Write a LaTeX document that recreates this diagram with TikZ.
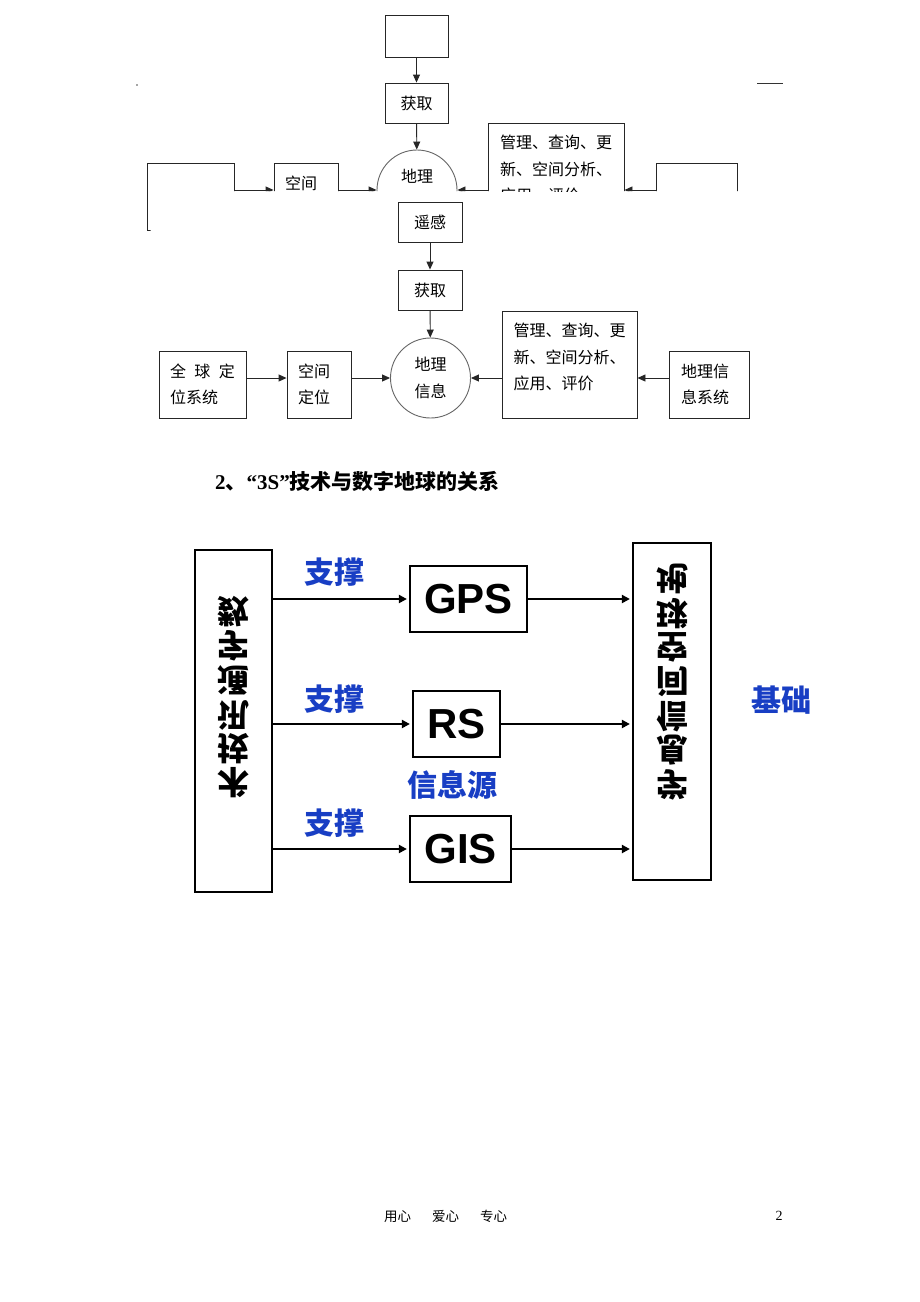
\documentclass[tikz,border=0pt]{standalone}
\usepackage{fontspec}
\usepackage{graphicx}
\newfontfamily\cjk{Noto Sans CJK SC}
\newfontfamily\arial{Liberation Sans}
\newfontfamily\tnr{Liberation Serif}
\usetikzlibrary{arrows.meta}
\definecolor{labelblue}{RGB}{24,62,196}
\newcommand{\flipch}[1]{\rotatebox[origin=c]{180}{\reflectbox{#1}}}

\begin{document}
\begin{tikzpicture}[x=1pt,y=-1pt,
	thinbox/.style={draw=black!85, line width=0.9pt, rectangle, inner sep=0pt, font=\cjk\fontsize{16}{26.5}\selectfont},
	thinarr/.style={draw=black!85, line width=0.9pt, -{Triangle[length=8pt,width=7pt]}},
	thickbox/.style={draw, line width=2.2pt, rectangle, inner sep=0pt},
	thickarr/.style={line width=2.2pt, shorten >=2pt, -{Triangle[length=8pt,width=8pt]}},
	biglabel/.style={font=\arial\bfseries\fontsize{42}{42}\selectfont},
	bluelabel/.style={labelblue, inner sep=0pt, font=\cjk\bfseries\fontsize{30}{30}\selectfont},
	fliptext/.style={align=center, inner sep=0pt, font=\cjk\bfseries\fontsize{32}{34.2}\selectfont}]
		\fill[white] (0,0) rectangle (920,1302);
		\useasboundingbox (0,0) rectangle (920,1302);
		% cut-off part of the page above
		\fill[black!70] (137,85) circle (0.8);
		\draw[black!80, line width=0.9pt] (757,83) -- (783,83);
		\begin{scope}
			\clip (140,0) rectangle (800,191) (0,0) rectangle (150.5,240);
			\node[thinbox, minimum width=63, minimum height=42] (oblank) at (416.5,36) {};
			\node[thinbox, minimum width=63, minimum height=40] (oget) at (416.5,103) {获取};
			\node[thinbox, draw=black!60, circle, minimum size=80, align=center] (ogeo) at (417,190) {地理\\信息};
			\node[thinbox, minimum width=87, minimum height=67] (oleft) at (190.5,196.5) {};
			\node[thinbox, minimum width=64, minimum height=67, align=left, text width=42] (ospace) at (306,196.5) {空间\\定位};
			\node[thinbox, minimum width=136, minimum height=107] (omanage) at (556,176.5) {};
			\node[thinbox, draw=none, align=left, text width=112] (omanagetext) at ([yshift=7.5pt]omanage.center) {管理、查询、更\\新、空间分析、\\应用、评价};
			\node[thinbox, minimum width=81, minimum height=67] (oright) at (696.5,196.5) {};
			\draw[thinarr] (oblank) -- (oget);
			\draw[thinarr] (oget) -- (ogeo);
			\draw[thinarr] (oleft.east |- ogeo) -- (ospace.west |- ogeo);
			\draw[thinarr] (ospace.east |- ogeo) -- (ogeo);
			\draw[thinarr] (omanage.west |- ogeo) -- (ogeo);
			\draw[thinarr] (oright.west |- ogeo) -- (omanage.east |- ogeo);
		\end{scope}
		% first diagram
		\node[thinbox, minimum width=64, minimum height=40] (rs) at (430,222) {遥感};
		\node[thinbox, minimum width=64, minimum height=40] (get) at (430,290) {获取};
		\node[thinbox, draw=black!60, circle, minimum size=80, align=center] (geo) at (430.5,378) {地理\\信息};
		\node[thinbox, minimum width=87, minimum height=67, align=left, text width=65] (gpsys) at (202.5,384.5) {全\hfill 球\hfill 定\\位系统};
		\node[thinbox, minimum width=64, minimum height=67, align=left, text width=42] (pos) at (319,384.5) {空间\\定位};
		\node[thinbox, minimum width=135, minimum height=107] (manage) at (569.5,364.5) {};
		\node[thinbox, draw=none, align=left, text width=112] (managetext) at ([yshift=7.5pt]manage.center) {管理、查询、更\\新、空间分析、\\应用、评价};
		\node[thinbox, minimum width=80, minimum height=67, align=left, text width=56] (gisys) at (709,384.5) {地理信\\息系统};
		\draw[thinarr] (rs) -- (get);
		\draw[thinarr] (get) -- (geo);
		\draw[thinarr] (gpsys.east |- geo) -- (pos.west |- geo);
		\draw[thinarr] (pos.east |- geo) -- (geo);
		\draw[thinarr] (manage.west |- geo) -- (geo);
		\draw[thinarr] (gisys.west |- geo) -- (manage.east |- geo);
		% heading
		\node[anchor=west, inner sep=0pt] (heading) at (215,481) {{\tnr\bfseries\fontsize{21}{21}\selectfont 2}{\cjk\bfseries\fontsize{21}{21}\selectfont 、}{\tnr\bfseries\fontsize{21}{21}\selectfont “3S”}{\cjk\bfseries\fontsize{21}{21}\selectfont 技术与数字地球的关系}};
		% second diagram
		\node[thickbox, minimum width=77, minimum height=342] (comm) at (233.5,721) {};
		\node[fliptext] (commtext) at (233.5,697) {\flipch{数}\\\flipch{字}\\\flipch{通}\\\flipch{讯}\\\flipch{技}\\\flipch{术}};
		\node[thickbox, minimum width=78, minimum height=337] (geoinfo) at (672,711.5) {};
		\node[fliptext] (geoinfotext) at (672,682) {\flipch{地}\\\flipch{球}\\\flipch{空}\\\flipch{间}\\\flipch{信}\\\flipch{息}\\\flipch{学}};
		\node[thickbox, biglabel, minimum width=117, minimum height=66] (gpsbox) at (468.5,599) {GPS};
		\node[thickbox, biglabel, minimum width=87, minimum height=66] (rsbox) at (456.5,724) {RS};
		\node[thickbox, biglabel, minimum width=101, minimum height=66] (gisbox) at (460.5,849) {GIS};
		\draw[thickarr] (comm.east |- gpsbox) -- (gpsbox);
		\draw[thickarr] (comm.east |- rsbox) -- (rsbox);
		\draw[thickarr] (comm.east |- gisbox) -- (gisbox);
		\draw[thickarr] (gpsbox) -- (gpsbox -| geoinfo.west);
		\draw[thickarr] (rsbox) -- (rsbox -| geoinfo.west);
		\draw[thickarr] (gisbox) -- (gisbox -| geoinfo.west);
		\node[bluelabel] (prop1) at (334,572) {支撑};
		\node[bluelabel] (prop2) at (334,699) {支撑};
		\node[bluelabel] (prop3) at (334,823) {支撑};
		\node[bluelabel] (source) at (452,785) {信息源};
		\node[bluelabel] (base) at (781,700) {基础};
		% footer
		\node[anchor=west, inner sep=0pt, font=\cjk\fontsize{13.5}{14}\selectfont] (footer) at (384,1216) {用心\hspace{21pt}爱心\hspace{21pt}专心};
		\node[inner sep=0pt, font=\tnr\fontsize{14}{14}\selectfont] (pagenum) at (779,1216) {2};
	\end{tikzpicture}
\end{document}
